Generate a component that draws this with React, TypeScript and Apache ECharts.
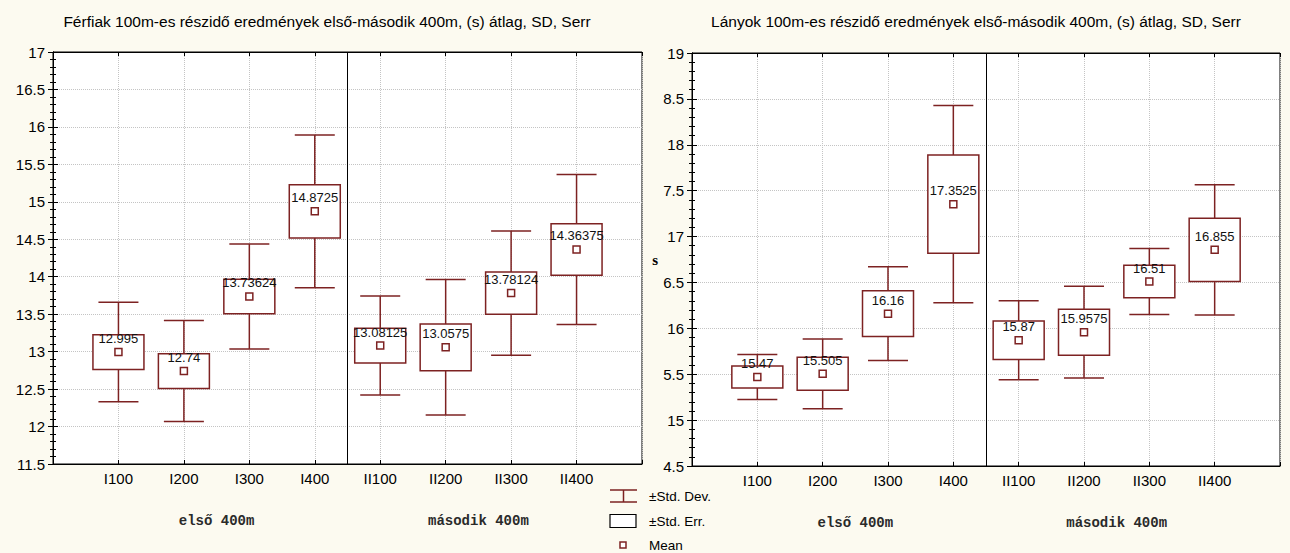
import React, { useEffect, useRef } from "react";
import * as echarts from "echarts";

const categories = ["I100", "I200", "I300", "I400", "II100", "II200", "II300", "II400"];
const groupLabels = ["első 400m", "második 400m"];

const menMean = [12.995, 12.74, 13.73624, 14.8725, 13.08125, 13.0575, 13.78124, 14.36375];
const menSD = [0.665, 0.674, 0.7, 1.02, 0.66, 0.905, 0.828, 1.0];
const menSE = [0.232, 0.232, 0.23, 0.355, 0.232, 0.313, 0.283, 0.345];

const womenMean = [15.47, 15.505, 16.16, 17.3525, 15.87, 15.9575, 16.51, 16.855];
const womenSD = [0.245, 0.38, 0.51, 1.075, 0.43, 0.5, 0.36, 0.71];
const womenSE = [0.12, 0.18, 0.25, 0.535, 0.21, 0.25, 0.177, 0.345];

const menTitle = "Férfiak 100m-es részidő eredmények első-második 400m, (s) átlag, SD, Serr";
const womenTitle = "Lányok 100m-es részidő eredmények első-második 400m, (s) átlag, SD, Serr";

// Y tick labels of the women's panel as printed (truncated in the original)
const womenTickValues = [14.5, 15, 15.5, 16, 16.5, 17, 17.5, 18, 18.5, 19];
const womenTickLabels = ["4.5", "15", "5.5", "16", "6.5", "17", "7.5", "18", "8.5", "19"];

const legendItems = ["±Std. Dev.", "±Std. Err.", "Mean"];

const RED = "#7d2222";
const SANS = '"Liberation Sans", Arial, sans-serif';

export default function App() {
  const ref = useRef<HTMLDivElement>(null);
  useEffect(() => {
    if (!ref.current) return;
    const chart = echarts.init(ref.current, null, { renderer: "svg" });

    const renderItem = (params: any, api: any) => {
      const x = api.value(0);
      const m = api.value(1);
      const sd = api.value(2);
      const se = api.value(3);
      const pm = api.coord([x, m]);
      const pt = api.coord([x, m + sd]);
      const pb = api.coord([x, m - sd]);
      const bt = api.coord([x, m + se]);
      const bb = api.coord([x, m - se]);
      const cx = pm[0];
      const lw = 1.5;
      const boxW = 51;
      const capW = 40;
      const mk = 7;
      return {
        type: "group",
        children: [
          { type: "line", shape: { x1: cx, y1: pt[1], x2: cx, y2: pb[1] }, style: { stroke: RED, lineWidth: lw } },
          { type: "line", shape: { x1: cx - capW / 2, y1: pt[1], x2: cx + capW / 2, y2: pt[1] }, style: { stroke: RED, lineWidth: lw } },
          { type: "line", shape: { x1: cx - capW / 2, y1: pb[1], x2: cx + capW / 2, y2: pb[1] }, style: { stroke: RED, lineWidth: lw } },
          { type: "rect", shape: { x: cx - boxW / 2, y: bt[1], width: boxW, height: bb[1] - bt[1] }, style: { fill: "#fff", stroke: RED, lineWidth: lw } },
          { type: "rect", shape: { x: cx - mk / 2, y: pm[1] - mk / 2, width: mk, height: mk }, style: { fill: "#fff", stroke: RED, lineWidth: lw } },
          {
            type: "text",
            style: {
              text: String(m),
              x: cx,
              y: pm[1] - 13.5,
              align: "center",
              verticalAlign: "middle",
              fill: "#111",
              font: `13px ${SANS}`,
            },
          },
        ],
      };
    };

    const mkData = (means: number[], sds: number[], ses: number[]) =>
      means.map((m, i) => [i + 1, m, sds[i], ses[i]]);

    const gridDefs = [
      { left: 53, top: 52, width: 589, height: 412 },
      { left: 692, top: 53, width: 588, height: 413 },
    ];

    const xAxes: any[] = [];
    const yAxes: any[] = [];
    const ranges = [
      { min: 11.5, max: 17 },
      { min: 14.5, max: 19 },
    ];
    gridDefs.forEach((_, g) => {
      xAxes.push({
        gridIndex: g,
        type: "value",
        min: 0,
        max: 9,
        interval: 1,
        position: "bottom",
        axisLine: { show: true, lineStyle: { color: "#000", width: 1 } },
        axisTick: { show: true, inside: true, length: 4, lineStyle: { color: "#000" } },
        axisLabel: {
          formatter: (v: number) => (v >= 1 && v <= 8 ? categories[Math.round(v) - 1] : ""),
          fontSize: 15,
          fontFamily: SANS,
          color: "#000",
          margin: 7,
        },
        splitLine: { show: true, lineStyle: { color: "#c4c4c4", type: "dotted", width: 1 } },
      });
      xAxes.push({
        gridIndex: g,
        type: "value",
        min: 0,
        max: 9,
        interval: 1,
        position: "top",
        axisLine: { show: true, lineStyle: { color: "#000", width: 1 } },
        axisTick: { show: true, inside: true, length: 4, lineStyle: { color: "#000" } },
        axisLabel: { show: false },
        splitLine: { show: false },
      });
      xAxes.push({
        gridIndex: g,
        type: "value",
        min: 0,
        max: 9,
        interval: 0.5,
        position: "bottom",
        axisLine: { show: false },
        axisTick: { show: false },
        axisLabel: {
          formatter: (v: number) => (v === 2.5 ? groupLabels[0] : v === 6.5 ? groupLabels[1] : ""),
          fontSize: 14,
          fontFamily: '"Liberation Mono", "Courier New", monospace',
          fontWeight: "bold",
          color: "#2a2a2a",
          margin: 50,
        },
        splitLine: { show: false },
      });
      const r = ranges[g];
      yAxes.push({
        gridIndex: g,
        type: "value",
        min: r.min,
        max: r.max,
        interval: 0.5,
        position: "left",
        name: g === 1 ? "s" : "",
        nameLocation: "middle",
        nameRotate: 0,
        nameGap: 34,
        nameTextStyle: { fontFamily: '"Liberation Serif", serif', fontWeight: "bold", fontSize: 15, color: "#000" },
        axisLine: { show: true, lineStyle: { color: "#000", width: 1 } },
        axisTick: { show: true, inside: true, length: 5, lineStyle: { color: "#000" } },
        minorTick: { show: true, splitNumber: 5, length: 3, lineStyle: { color: "#000" } },
        axisLabel: {
          formatter:
            g === 1
              ? (v: number) => {
                  const idx = womenTickValues.findIndex((t) => Math.abs(t - v) < 1e-6);
                  return idx >= 0 ? womenTickLabels[idx] : "";
                }
              : (v: number) => String(v),
          fontSize: 15,
          fontFamily: SANS,
          color: "#000",
          margin: 8,
        },
        splitLine: { show: true, lineStyle: { color: "#c4c4c4", type: "dotted", width: 1 } },
      });
      yAxes.push({
        gridIndex: g,
        type: "value",
        min: r.min,
        max: r.max,
        interval: 0.5,
        position: "right",
        axisLine: { show: true, lineStyle: { color: "#000", width: 1 } },
        axisTick: { show: true, inside: true, length: 5, lineStyle: { color: "#000" } },
        minorTick: { show: true, splitNumber: 5, length: 3, lineStyle: { color: "#000" } },
        axisLabel: { show: false },
        splitLine: { show: false },
      });
    });

    const divider = {
      silent: true,
      symbol: ["none", "none"],
      label: { show: false },
      lineStyle: { color: "#000", type: "solid", width: 1 },
      data: [{ xAxis: 4.5 }],
    };

    const legendX = 610;
    const legendTextX = 649;
    const rows = [496, 521, 545];

    chart.setOption({
      animation: false,
      backgroundColor: "#fcfaf0",
      grid: gridDefs.map((d) => ({ ...d, show: true, backgroundColor: "#fff", borderColor: "#000", borderWidth: 1 })),
      xAxis: xAxes,
      yAxis: yAxes,
      series: [
        {
          type: "custom",
          xAxisIndex: 0,
          yAxisIndex: 0,
          renderItem,
          data: mkData(menMean, menSD, menSE),
          encode: { x: 0, y: 1 },
          markLine: divider,
          z: 5,
        },
        {
          type: "custom",
          xAxisIndex: 3,
          yAxisIndex: 2,
          renderItem,
          data: mkData(womenMean, womenSD, womenSE),
          encode: { x: 0, y: 1 },
          markLine: divider,
          z: 5,
        },
      ],
      graphic: [
        {
          type: "text",
          x: 327,
          y: 21,
          style: { text: menTitle, align: "center", verticalAlign: "middle", font: `15.5px ${SANS}`, fill: "#000" },
        },
        {
          type: "text",
          x: 976,
          y: 21,
          style: { text: womenTitle, align: "center", verticalAlign: "middle", font: `15.5px ${SANS}`, fill: "#000" },
        },
        // legend: Std. Dev. whisker
        { type: "line", shape: { x1: legendX, y1: rows[0] - 6, x2: legendX + 27, y2: rows[0] - 6 }, style: { stroke: RED, lineWidth: 1.5 } },
        { type: "line", shape: { x1: legendX, y1: rows[0] + 6, x2: legendX + 27, y2: rows[0] + 6 }, style: { stroke: RED, lineWidth: 1.5 } },
        { type: "line", shape: { x1: legendX + 13.5, y1: rows[0] - 6, x2: legendX + 13.5, y2: rows[0] + 6 }, style: { stroke: RED, lineWidth: 1.5 } },
        // legend: Std. Err. box
        { type: "rect", shape: { x: legendX, y: rows[1] - 6.5, width: 26, height: 13 }, style: { fill: "#fff", stroke: "#000", lineWidth: 1.2 } },
        // legend: Mean marker
        { type: "rect", shape: { x: legendX + 10, y: rows[2] - 3, width: 6, height: 6 }, style: { fill: "#fff", stroke: RED, lineWidth: 1.5 } },
        ...legendItems.map((t, i) => ({
          type: "text",
          x: legendTextX,
          y: rows[i],
          style: { text: t, align: "left", verticalAlign: "middle", font: `13.5px ${SANS}`, fill: "#000" },
        })),
      ],
    });

    return () => chart.dispose();
  }, []);

  return <div ref={ref} style={{ position: "fixed", left: 0, top: 0, width: 1290, height: 553 }} />;
}
